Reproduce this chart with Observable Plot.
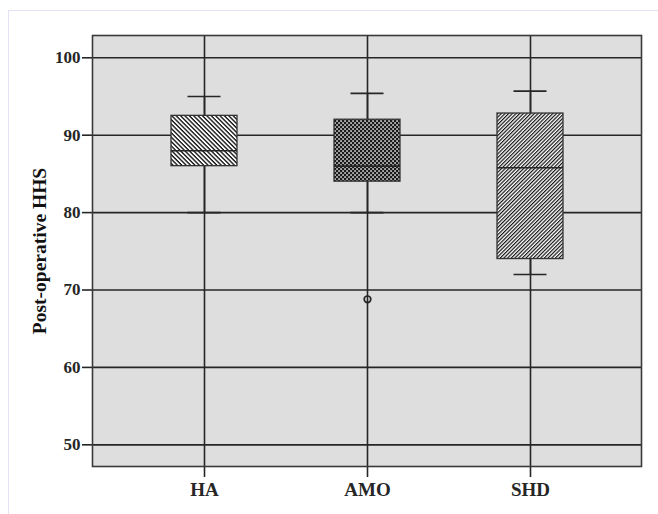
<!DOCTYPE html>
<html>
<head>
<meta charset="utf-8">
<script src="https://cdn.jsdelivr.net/npm/d3@7"></script>
<script src="https://cdn.jsdelivr.net/npm/@observablehq/plot@0.6"></script>
<style>
  html, body { margin: 0; padding: 0; background: #fff; }
  #wrap { position: relative; width: 658px; height: 514px; overflow: hidden; }
  #edge { position: absolute; left: 8px; top: 10px; right: -5px; bottom: -5px;
          border-top: 1.5px solid #e3e3f3; border-left: 1.5px solid #e3e3f3; pointer-events: none; }
  #wrap svg { display: block; }
</style>
</head>
<body>
<div id="wrap"><div id="edge"></div></div>
<script>
// ---- data ----
const groups       = ["HA", "AMO", "SHD"];
const whiskerLow   = [80, 80, 72];
const q1           = [86, 84, 74];
const median       = [88, 86, 85.8];
const q3           = [92.5, 92, 92.8];
const whiskerHigh  = [95, 95.4, 95.7];
const patterns     = ["url(#hatchHA)", "url(#hatchAMO)", "url(#hatchSHD)"];
const outlierGroup = ["AMO"];
const outlierValue = [68.8];
const yTicks       = [50, 60, 70, 80, 90, 100];
const yTitle       = "Post-operative HHS";

const rows = groups.map((g, i) => ({
  group: g, lo: whiskerLow[i], q1: q1[i], med: median[i], q3: q3[i], hi: whiskerHigh[i], pat: patterns[i]
}));
const outliers = outlierGroup.map((g, i) => ({group: g, value: outlierValue[i]}));

const ink = "#262626";
const serif = "'Liberation Serif', 'DejaVu Serif', serif";

const chart = Plot.plot({
  width: 658,
  height: 514,
  marginLeft: 92,
  marginRight: 17,
  marginTop: 35,
  marginBottom: 48,
  style: {fontFamily: serif, fontWeight: "bold", fontSize: "17px", color: ink, background: "transparent"},
  x: {type: "band", domain: groups, paddingInner: 0.598, paddingOuter: 0.473,
      tickSize: 11, tickPadding: 5, label: null},
  y: {domain: [47.2, 102.88], ticks: yTicks, tickSize: 10, tickPadding: 2, label: null},
  color: {type: "identity"},
  marks: [
    Plot.frame({fill: "#dedede"}),
    Plot.ruleY(yTicks, {stroke: ink, strokeWidth: 1.6}),
    Plot.ruleX(groups, {x: d => d, stroke: ink, strokeWidth: 1.6}),
    // whiskers
    Plot.ruleX(rows, {x: "group", y1: "q3", y2: "hi", stroke: ink, strokeWidth: 1.6}),
    Plot.ruleX(rows, {x: "group", y1: "lo", y2: "q1", stroke: ink, strokeWidth: 1.6}),
    // caps
    Plot.tickY(rows, {x: "group", y: "hi", stroke: ink, strokeWidth: 1.6, insetLeft: 16.5, insetRight: 16.5}),
    Plot.tickY(rows, {x: "group", y: "lo", stroke: ink, strokeWidth: 1.6, insetLeft: 16.5, insetRight: 16.5}),
    // boxes
    Plot.barY(rows, {x: "group", y1: "q1", y2: "q3", fill: "pat", stroke: "#333", strokeWidth: 1.3}),
    Plot.tickY(rows, {x: "group", y: "med", stroke: ink, strokeWidth: 1.6}),
    // outlier
    Plot.dot(outliers, {x: "group", y: "value", r: 3.3, stroke: ink, strokeWidth: 1.7, fill: "none"}),
    Plot.frame({stroke: "#3a3a3a", strokeWidth: 1.6}),
    Plot.text([yTitle], {frameAnchor: "left", textAnchor: "middle", dx: -53, rotate: -90, fontSize: 19.5,
                         fontWeight: "bold", fontFamily: serif, fill: "#111"})
  ]
});

// hatch patterns used by the box fills
const NS = "http://www.w3.org/2000/svg";
const defs = document.createElementNS(NS, "defs");
defs.innerHTML = `
  <pattern id="hatchHA" patternUnits="userSpaceOnUse" width="8" height="3.1" patternTransform="rotate(45)">
    <rect width="8" height="3.1" fill="#fff"/><rect width="8" height="1.35" fill="#111"/>
  </pattern>
  <pattern id="hatchSHD" patternUnits="userSpaceOnUse" width="8" height="2.6" patternTransform="rotate(-45)">
    <rect width="8" height="2.6" fill="#fff"/><rect width="8" height="1.2" fill="#111"/>
  </pattern>
  <pattern id="hatchAMO" patternUnits="userSpaceOnUse" width="4" height="4">
    <rect width="4" height="4" fill="#1a1a1a"/>
    <rect x="0.3" y="0.3" width="1.5" height="1.5" fill="#fff"/>
    <rect x="2.3" y="2.3" width="1.5" height="1.5" fill="#fff"/>
  </pattern>`;
chart.insertBefore(defs, chart.firstChild);

const s = d3.select(chart);
s.selectAll('[aria-label^="x-axis"] text').attr("font-size", 19).style("font-size", "19px");
s.selectAll('[aria-label^="x-axis"] line, [aria-label^="x-axis"] path, [aria-label^="y-axis"] line, [aria-label^="y-axis"] path')
  .attr("stroke-width", 1.6);

document.getElementById("wrap").prepend(chart);
</script>
</body>
</html>
